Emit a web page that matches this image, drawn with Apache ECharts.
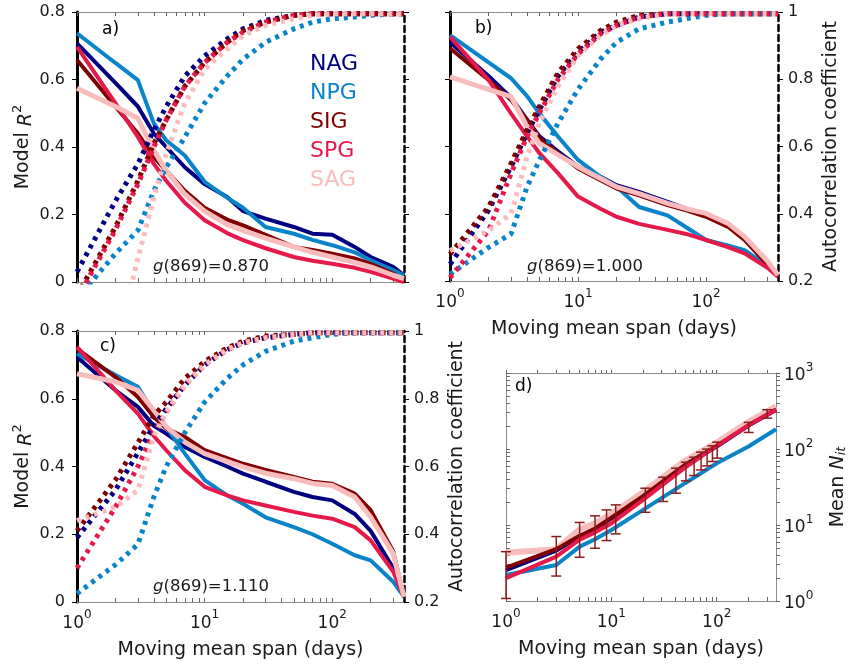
<!DOCTYPE html>
<html>
<head>
<meta charset="utf-8">
<script src="https://cdn.jsdelivr.net/npm/echarts@6/dist/echarts.min.js"></script>
<style>
  html, body { margin: 0; padding: 0; background: #fff; }
  #chart { width: 849px; height: 667px; }
</style>
</head>
<body>
<div id="chart"></div>
<script>
// moving mean spans (days) used for panels a-c
const spans = [1, 2, 3, 4, 5, 7, 10, 15, 20, 30, 50, 70, 100, 150, 200, 300, 365]

// a) model R2, g = 0.870
const aNAG = [0.707, 0.59, 0.52, 0.44, 0.40, 0.34, 0.29, 0.252, 0.21, 0.188, 0.163, 0.143, 0.14, 0.104, 0.074, 0.045, 0.02]
const aNPG = [0.737, 0.649, 0.598, 0.47, 0.42, 0.375, 0.297, 0.25, 0.22, 0.163, 0.143, 0.125, 0.109, 0.088, 0.064, 0.035, 0.02]
const aSIG = [0.658, 0.52, 0.44, 0.37, 0.33, 0.27, 0.22, 0.185, 0.168, 0.14, 0.104, 0.095, 0.084, 0.07, 0.054, 0.025, 0.005]
const aSPG = [0.697, 0.53, 0.43, 0.35, 0.30, 0.235, 0.183, 0.145, 0.124, 0.10, 0.074, 0.063, 0.054, 0.042, 0.03, 0.01, 0.0]
const aSAG = [0.574, 0.52, 0.485, 0.39, 0.33, 0.26, 0.21, 0.17, 0.153, 0.13, 0.104, 0.088, 0.074, 0.058, 0.045, 0.02, 0.01]
// a) autocorrelation coefficient
const acaNAG = [0.23, 0.44, 0.55, 0.65, 0.72, 0.81, 0.87, 0.92, 0.95, 0.975, 0.99, 0.995, 0.995, 0.995, 0.995, 0.995, 0.995]
const acaNPG = [0.15, 0.284, 0.353, 0.47, 0.54, 0.63, 0.73, 0.81, 0.86, 0.91, 0.95, 0.97, 0.98, 0.985, 0.99, 0.995, 0.995]
const acaSIG = [0.16, 0.363, 0.50, 0.61, 0.68, 0.78, 0.85, 0.91, 0.945, 0.97, 0.99, 0.995, 0.995, 0.995, 0.995, 0.995, 0.995]
const acaSPG = [0.15, 0.355, 0.49, 0.60, 0.68, 0.78, 0.85, 0.91, 0.94, 0.97, 0.99, 0.995, 0.995, 0.995, 0.995, 0.995, 0.995]
const acaSAG = [null, 0.0, 0.27, 0.45, 0.58, 0.73, 0.83, 0.89, 0.93, 0.96, 0.98, 0.99, 0.995, 0.995, 0.995, 0.995, 0.995]

// b) model R2, g = 1.000
const bNAG = [0.71, 0.61, 0.545, 0.48, 0.43, 0.385, 0.34, 0.31, 0.285, 0.265, 0.235, 0.215, 0.195, 0.165, 0.125, 0.05, 0.013]
const bNPG = [0.731, 0.65, 0.603, 0.55, 0.498, 0.429, 0.36, 0.31, 0.28, 0.22, 0.195, 0.16, 0.122, 0.105, 0.092, 0.045, 0.013]
const bSIG = [0.692, 0.598, 0.538, 0.479, 0.424, 0.38, 0.335, 0.30, 0.275, 0.255, 0.226, 0.21, 0.191, 0.16, 0.122, 0.05, 0.013]
const bSPG = [0.726, 0.598, 0.498, 0.43, 0.38, 0.32, 0.251, 0.215, 0.191, 0.17, 0.152, 0.14, 0.122, 0.10, 0.082, 0.04, 0.013]
const bSAG = [0.607, 0.57, 0.548, 0.46, 0.409, 0.375, 0.34, 0.305, 0.28, 0.26, 0.231, 0.215, 0.201, 0.17, 0.132, 0.06, 0.018]
// b) autocorrelation coefficient
const acbNAG = [0.25, 0.41, 0.54, 0.64, 0.71, 0.81, 0.88, 0.94, 0.96, 0.985, 0.995, 0.995, 0.995, 0.995, 0.995, 0.995, 0.995]
const acbNPG = [0.22, 0.30, 0.34, 0.48, 0.56, 0.67, 0.77, 0.86, 0.91, 0.95, 0.97, 0.98, 0.99, 0.995, 0.995, 0.995, 0.995]
const acbSIG = [0.28, 0.42, 0.55, 0.65, 0.72, 0.82, 0.89, 0.945, 0.97, 0.99, 0.995, 0.995, 0.995, 0.995, 0.995, 0.995, 0.995]
const acbSPG = [0.21, 0.35, 0.52, 0.63, 0.70, 0.80, 0.875, 0.935, 0.96, 0.985, 0.995, 0.995, 0.995, 0.995, 0.995, 0.995, 0.995]
const acbSAG = [0.29, 0.35, 0.40, 0.57, 0.67, 0.78, 0.87, 0.93, 0.96, 0.98, 0.995, 0.995, 0.995, 0.995, 0.995, 0.995, 0.995]

// c) model R2, g = 1.110
const cNAG = [0.723, 0.625, 0.576, 0.52, 0.497, 0.458, 0.428, 0.40, 0.379, 0.355, 0.325, 0.31, 0.30, 0.26, 0.21, 0.10, 0.015]
const cNPG = [0.733, 0.67, 0.635, 0.56, 0.517, 0.438, 0.36, 0.315, 0.29, 0.25, 0.221, 0.20, 0.172, 0.138, 0.123, 0.06, 0.015]
const cSIG = [0.748, 0.664, 0.605, 0.546, 0.512, 0.487, 0.448, 0.425, 0.408, 0.39, 0.369, 0.355, 0.349, 0.32, 0.271, 0.15, 0.015]
const cSPG = [0.753, 0.625, 0.556, 0.49, 0.448, 0.389, 0.34, 0.315, 0.30, 0.285, 0.266, 0.255, 0.246, 0.221, 0.182, 0.09, 0.015]
const cSAG = [0.674, 0.65, 0.625, 0.566, 0.517, 0.472, 0.438, 0.415, 0.399, 0.38, 0.364, 0.35, 0.344, 0.31, 0.251, 0.143, 0.015]
// c) autocorrelation coefficient
const accNAG = [0.39, 0.53, 0.64, 0.72, 0.77, 0.84, 0.90, 0.945, 0.965, 0.98, 0.99, 0.995, 0.995, 0.995, 0.995, 0.995, 0.995]
const accNPG = [0.225, 0.31, 0.37, 0.51, 0.60, 0.70, 0.79, 0.86, 0.90, 0.94, 0.97, 0.98, 0.99, 0.995, 0.995, 0.995, 0.995]
const accSIG = [0.41, 0.56, 0.67, 0.75, 0.79, 0.86, 0.91, 0.95, 0.97, 0.985, 0.99, 0.995, 0.995, 0.995, 0.995, 0.995, 0.995]
const accSPG = [0.30, 0.48, 0.60, 0.70, 0.76, 0.84, 0.90, 0.945, 0.965, 0.98, 0.99, 0.995, 0.995, 0.995, 0.995, 0.995, 0.995]
const accSAG = [0.44, 0.48, 0.53, 0.69, 0.76, 0.84, 0.90, 0.945, 0.965, 0.98, 0.99, 0.995, 0.995, 0.995, 0.995, 0.995, 0.995]

// d) mean N_it
const dSpans = [1, 3, 5, 7, 10, 20, 50, 100, 200, 365]
const dNAG = [2.55, 4.6, 7.0, 8.8, 12.2, 23.5, 61, 108, 203, 325]
const dNPG = [2.2, 2.98, 5.2, 6.5, 8.6, 15.8, 35.5, 65, 108, 182]
const dSIG = [2.75, 4.8, 7.2, 9.0, 12.5, 24, 62, 110, 205, 330]
const dSPG = [2.0, 3.84, 6.4, 8.0, 10.5, 21.4, 57, 110, 205, 329]
const dSAG = [4.3, 4.8, 8.8, 10.5, 14, 27, 70, 122, 228, 365]
// d) error bars
const errSpans = [1, 3, 5, 7, 9, 11, 21, 31, 41, 51, 61, 71, 81, 91, 101, 201, 301]
const errLow = [1.08, 2.13, 3.76, 4.94, 6.24, 7.64, 14.7, 20.4, 26.2, 38.1, 44.8, 53, 60, 68.5, 75.8, 165, 255]
const errHigh = [4.46, 7.05, 10.8, 13.2, 15.8, 18.4, 30.5, 42.6, 56, 67, 78, 91, 99.6, 110, 123, 224, 329]

const groups = ['NAG', 'NPG', 'SIG', 'SPG', 'SAG']
const colors = { NAG: '#000080', NPG: '#0a84c9', SIG: '#800000', SPG: '#e6194b', SAG: '#f9bcbd' }
const xTicks = [1, 2, 3, 4, 5, 6, 7, 8, 9, 10, 20, 30, 40, 50, 60, 70, 80, 90, 100, 200, 300]
const yTicksD = [1, 2, 3, 4, 5, 6, 7, 8, 9, 10, 20, 30, 40, 50, 60, 70, 80, 90, 100, 200, 300, 400, 500, 600, 700, 800, 900, 1000]

const FONT = 'DejaVu Sans'
const TXT = '#1a1a1a'

const pts = (xs, ys) => xs.map((x, i) => [x, ys[i]])

const powRich = {
  b: { fontFamily: FONT, fontSize: 17, color: TXT, lineHeight: 23, verticalAlign: 'bottom' },
  sup: { fontFamily: FONT, fontSize: 12, color: TXT, lineHeight: 12, verticalAlign: 'top' }
}
const powLabel = v => '{b|10}{sup|' + Math.round(Math.log10(v)) + '}'

const nameStyle = {
  fontFamily: FONT, fontSize: 19, color: TXT,
  rich: {
    i: { fontFamily: FONT, fontSize: 19, fontStyle: 'italic', color: TXT, lineHeight: 25, verticalAlign: 'bottom' },
    sup: { fontFamily: FONT, fontSize: 13, color: TXT, lineHeight: 13, verticalAlign: 'top' },
    sub: { fontFamily: FONT, fontSize: 13, fontStyle: 'italic', color: TXT, lineHeight: 13, verticalAlign: 'bottom' },
    t: { fontFamily: FONT, fontSize: 19, color: TXT, lineHeight: 25, verticalAlign: 'bottom' }
  }
}

const xBottom = (gridIndex, labels) => ({
  type: 'log', gridIndex, position: 'bottom', min: 1, max: 365,
  axisLine: { onZero: false, lineStyle: { color: '#8a8a8a', width: 1 } },
  axisTick: { inside: true, length: 4, customValues: xTicks, lineStyle: { color: '#666' } },
  axisLabel: labels ? { customValues: [1, 10, 100], formatter: powLabel, rich: powRich, margin: 7 } : { show: false },
  splitLine: { show: false },
  name: labels ? 'Moving mean span (days)' : '',
  nameLocation: 'middle', nameGap: 39, nameTextStyle: nameStyle
})

const xTop = (gridIndex, inside) => ({
  type: 'log', gridIndex, position: 'top', min: 1, max: 365,
  axisLine: { onZero: false, lineStyle: { color: '#8a8a8a', width: 1 } },
  axisTick: { inside, length: inside ? 4 : 3, customValues: xTicks, lineStyle: { color: '#666' } },
  axisLabel: { show: false }, splitLine: { show: false }
})

const r2Label = v => (v === 0 ? '0' : (Math.round(v * 10) / 10).toFixed(1))
const acLabel = v => { const r = Math.round(v * 10) / 10; return r === 1 ? '1' : r.toFixed(1) }

const yLeft = (gridIndex, labels) => ({
  type: 'value', gridIndex, position: 'left', min: 0, max: 0.8, interval: 0.2,
  axisLine: { show: true, onZero: false, lineStyle: { color: '#000', width: 3 } },
  axisTick: { show: true, length: 5, lineStyle: { color: '#000', width: 1 } },
  axisLabel: labels ? { formatter: r2Label, fontFamily: FONT, fontSize: 16, color: TXT, margin: 12 } : { show: false },
  splitLine: { show: false },
  name: labels ? 'Model {i|R}{sup|2}' : '',
  nameLocation: 'middle', nameRotate: 90, nameGap: 36, nameTextStyle: nameStyle
})

const yRight = (gridIndex, labels) => ({
  type: 'value', gridIndex, position: 'right', min: 0.2, max: 1, interval: 0.2,
  axisLine: { show: true, onZero: false, lineStyle: { color: '#000', width: 2.5, type: [6, 4] } },
  axisTick: { show: true, length: 5, lineStyle: { color: '#000', width: 1 } },
  axisLabel: labels ? { formatter: acLabel, fontFamily: FONT, fontSize: 16, color: TXT, margin: 10 } : { show: false },
  splitLine: { show: false },
  name: labels ? 'Autocorrelation coefficient' : '',
  nameLocation: 'middle', nameRotate: 90, nameGap: 44, nameTextStyle: nameStyle
})

const panelSeries = (xIdx, yL, yR, r2, ac) => {
  const out = []
  groups.forEach((g, i) => out.push({
    name: g, type: 'line', xAxisIndex: xIdx, yAxisIndex: yL,
    data: pts(spans, r2[i]), showSymbol: false, silent: true,
    lineStyle: { color: colors[g], width: g === 'SAG' ? 5 : 4 },
    itemStyle: { color: colors[g] }
  }))
  groups.forEach((g, i) => out.push({
    name: g, type: 'line', xAxisIndex: xIdx, yAxisIndex: yR,
    data: pts(spans, ac[i]), showSymbol: false, silent: true,
    lineStyle: { color: colors[g], width: 5, type: [4, 5], cap: 'butt' },
    itemStyle: { color: colors[g] }
  }))
  return out
}

const series = [].concat(
  panelSeries(0, 0, 1, [aNAG, aNPG, aSIG, aSPG, aSAG], [acaNAG, acaNPG, acaSIG, acaSPG, acaSAG]),
  panelSeries(2, 2, 3, [bNAG, bNPG, bSIG, bSPG, bSAG], [acbNAG, acbNPG, acbSIG, acbSPG, acbSAG]),
  panelSeries(4, 4, 5, [cNAG, cNPG, cSIG, cSPG, cSAG], [accNAG, accNPG, accSIG, accSPG, accSAG])
)

// panel d: draw order keeps the wide pink line at the back
const dLines = { NAG: dNAG, NPG: dNPG, SIG: dSIG, SPG: dSPG, SAG: dSAG }
;['SAG', 'NAG', 'SIG', 'NPG', 'SPG'].forEach(g => series.push({
  name: g, type: 'line', xAxisIndex: 6, yAxisIndex: 6,
  data: pts(dSpans, dLines[g]), showSymbol: false, silent: true,
  lineStyle: { color: colors[g], width: g === 'SAG' ? 6 : 4 },
  itemStyle: { color: colors[g] }
}))

series.push({
  type: 'custom', xAxisIndex: 6, yAxisIndex: 6, silent: true, z: 5,
  data: errSpans.map((x, i) => [x, errLow[i], errHigh[i]]),
  encode: { x: 0, y: [1, 2] },
  renderItem: (params, api) => {
    const x = api.value(0)
    const lo = api.coord([x, api.value(1)])
    const hi = api.coord([x, api.value(2)])
    const w = 5
    const style = { stroke: '#8c1c1c', lineWidth: 1.5 }
    return {
      type: 'group',
      children: [
        { type: 'line', shape: { x1: lo[0], y1: lo[1], x2: hi[0], y2: hi[1] }, style },
        { type: 'line', shape: { x1: lo[0] - w, y1: lo[1], x2: lo[0] + w, y2: lo[1] }, style },
        { type: 'line', shape: { x1: hi[0] - w, y1: hi[1], x2: hi[0] + w, y2: hi[1] }, style }
      ]
    }
  }
})

const gText = (left, top, value) => ({
  type: 'text', left, top, silent: true,
  style: {
    text: '{i|g}{n|(869)=' + value + '}',
    rich: {
      i: { fontFamily: FONT, fontSize: 16.5, fontStyle: 'italic', fill: TXT },
      n: { fontFamily: FONT, fontSize: 16.5, fill: TXT }
    }
  }
})
const panelLabel = (left, top, t) => ({
  type: 'text', left, top, silent: true,
  style: { text: t, fontFamily: FONT, fontSize: 17, fill: '#000' }
})

const option = {
  backgroundColor: '#fff',
  animation: false,
  grid: [
    { left: 77, top: 12, width: 327, height: 270 },
    { left: 450, top: 12, width: 328, height: 269 },
    { left: 77, top: 331, width: 327, height: 271 },
    { left: 506, top: 373, width: 272, height: 228 }
  ],
  xAxis: [
    xBottom(0, false), xTop(0, true),
    xBottom(1, true), xTop(1, true),
    xBottom(2, true), xTop(2, true),
    xBottom(3, true), xTop(3, false)
  ],
  yAxis: [
    yLeft(0, true), yRight(0, false),
    yLeft(1, false), yRight(1, true),
    yLeft(2, true), yRight(2, true),
    {
      type: 'log', gridIndex: 3, position: 'right', min: 1, max: 1000,
      axisLine: { show: true, onZero: false, lineStyle: { color: '#8a8a8a', width: 1 } },
      axisTick: { show: true, length: 4, customValues: yTicksD, lineStyle: { color: '#666' } },
      axisLabel: { customValues: [1, 10, 100, 1000], formatter: powLabel, rich: powRich, margin: 8 },
      splitLine: { show: false },
      name: '{t|Mean }{i|N}{sub|it}', nameLocation: 'middle', nameRotate: 90, nameGap: 47,
      nameTextStyle: nameStyle
    },
    {
      type: 'log', gridIndex: 3, position: 'left', min: 1, max: 1000,
      axisLine: { show: true, onZero: false, lineStyle: { color: '#8a8a8a', width: 1 } },
      axisTick: { show: true, inside: true, length: 4, customValues: yTicksD, lineStyle: { color: '#666' } },
      axisLabel: { show: false }, splitLine: { show: false }
    }
  ],
  legend: {
    orient: 'vertical', left: 300, top: 48, itemGap: 7,
    icon: 'none', itemWidth: 0, itemHeight: 0, selectedMode: false,
    textStyle: { fontFamily: FONT, fontSize: 22, lineHeight: 22 },
    data: groups.map(g => ({ name: g, textStyle: { color: colors[g] } }))
  },
  graphic: [
    panelLabel(102, 21, 'a)'),
    panelLabel(475, 20, 'b)'),
    panelLabel(100, 338, 'c)'),
    panelLabel(515, 378, 'd)'),
    gText(153, 258, '0.870'),
    gText(527, 258, '1.000'),
    gText(153, 578, '1.110')
  ],
  series
}

const chart = echarts.init(document.getElementById('chart'))
chart.setOption(option)
</script>
</body>
</html>
